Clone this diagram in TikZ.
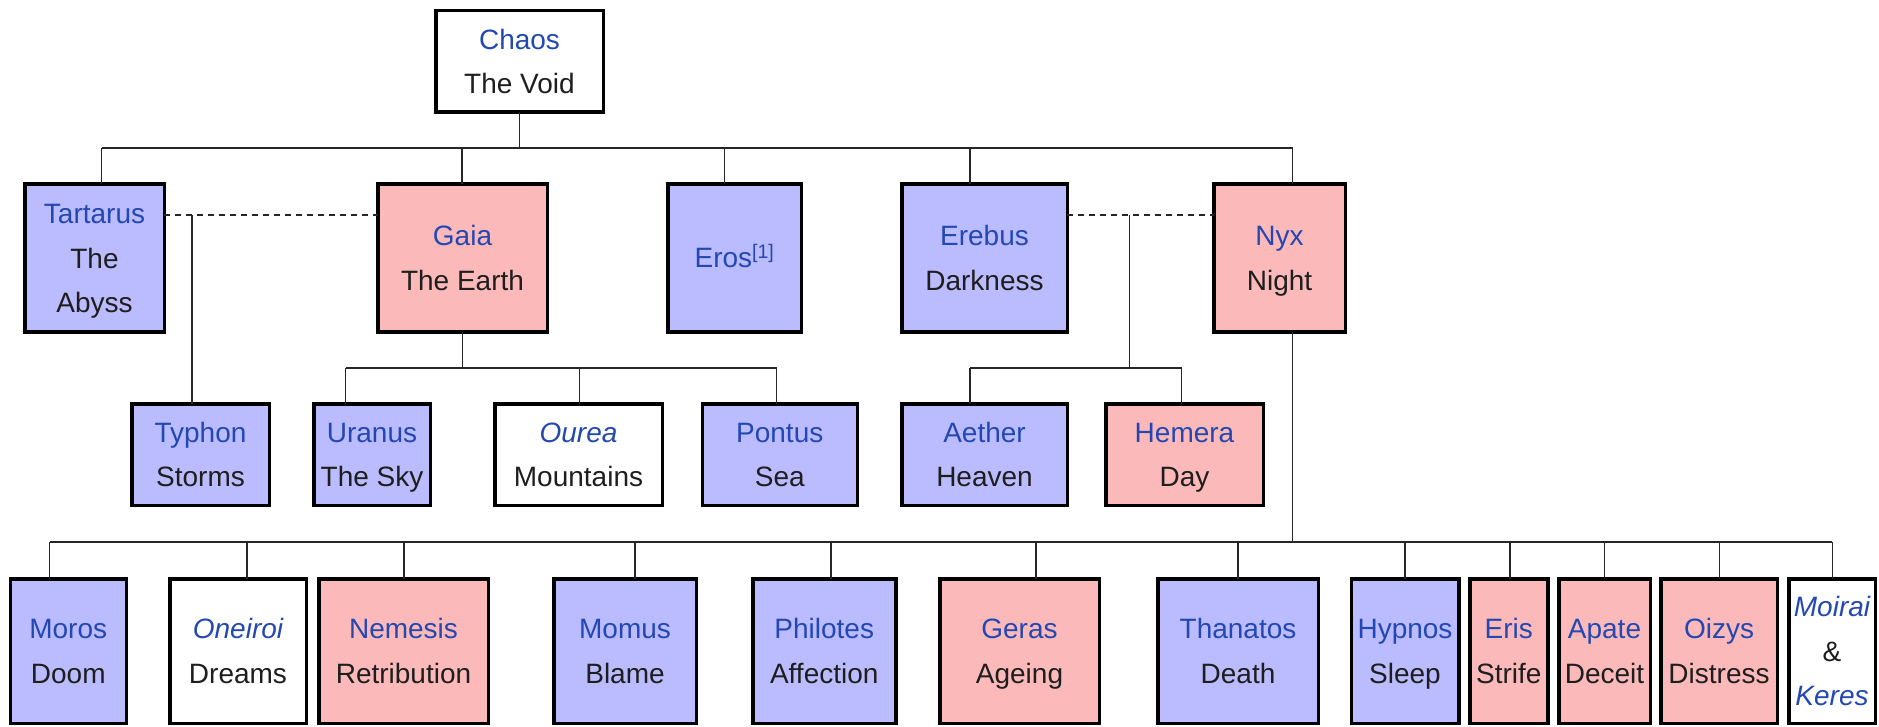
\documentclass[tikz,border=0pt]{standalone}
\usepackage{fontspec}
\setmainfont{Liberation Sans}
\definecolor{godblue}{RGB}{187,187,255}
\definecolor{godpink}{RGB}{251,185,186}
\definecolor{linkblue}{RGB}{35,72,178}
\definecolor{txt}{RGB}{30,30,30}
\newcommand\gline[1]{\rule{0pt}{20pt}\smash{#1}}
\newcommand\nm[1]{\textcolor{linkblue}{#1}}
\newcommand\gnode[7]{\node[#1, minimum width={(#4-#3-3.5)*1pt}, minimum height={(#6-#5-3.5)*1pt}] (#2) at ({(#3+#4)/2},{(#5+#6)/2}) {#7};}
\tikzset{
  godbox/.style={draw=black, line width=3.5pt, rectangle, inner sep=0pt, outer sep=0pt,
    align=center, text=txt, font=\fontsize{28}{44.5}\selectfont},
  bluebox/.style={godbox, fill=godblue},
  pinkbox/.style={godbox, fill=godpink},
  whitebox/.style={godbox, fill=white},
  link/.style={line width=1.3pt, draw=black!85},
  marriage/.style={line width=1.6pt, draw=black!85, dash pattern=on 6pt off 5pt},
}
\begin{document}
\begin{tikzpicture}[x=1pt, y=-1pt]
\useasboundingbox (0,0) rectangle (1879,727);
% row 0
\gnode{whitebox}{chaos}{434}{605}{9}{114}{\gline{\nm{Chaos}}\\\gline{The Void}}
% row 1
\gnode{bluebox}{tartarus}{23}{166}{182.5}{333.5}{\gline{\nm{Tartarus}}\\\gline{The}\\\gline{Abyss}}
\gnode{pinkbox}{gaia}{376}{549}{182.5}{333.5}{\gline{\nm{Gaia}}\\\gline{The Earth}}
\gnode{bluebox}{eros}{666}{803}{182.5}{333.5}{\gline{\nm{Eros\textsuperscript{[1]}}}}
\gnode{bluebox}{erebus}{900}{1069}{182.5}{333.5}{\gline{\nm{Erebus}}\\\gline{Darkness}}
\gnode{pinkbox}{nyx}{1212}{1347}{182.5}{333.5}{\gline{\nm{Nyx}}\\\gline{Night}}
% row 2
\gnode{bluebox}{typhon}{130}{271}{402}{507}{\gline{\nm{Typhon}}\\\gline{Storms}}
\gnode{bluebox}{uranus}{312}{432}{402}{507}{\gline{\nm{Uranus}}\\\gline{The Sky}}
\gnode{whitebox}{ourea}{493}{664}{402}{507}{\gline{\nm{\itshape Ourea}}\\\gline{Mountains}}
\gnode{bluebox}{pontus}{700.5}{859}{402}{507}{\gline{\nm{Pontus}}\\\gline{Sea}}
\gnode{bluebox}{aether}{900}{1069}{402}{507}{\gline{\nm{Aether}}\\\gline{Heaven}}
\gnode{pinkbox}{hemera}{1104}{1265}{402}{507}{\gline{\nm{Hemera}}\\\gline{Day}}
% row 3
\gnode{bluebox}{moros}{8.5}{128}{577}{725}{\gline{\nm{Moros}}\\\gline{Doom}}
\gnode{whitebox}{oneiroi}{168}{308}{577}{725}{\gline{\nm{\itshape Oneiroi}}\\\gline{Dreams}}
\gnode{pinkbox}{nemesis}{317}{490}{577}{725}{\gline{\nm{Nemesis}}\\\gline{Retribution}}
\gnode{bluebox}{momus}{552}{698}{577}{725}{\gline{\nm{Momus}}\\\gline{Blame}}
\gnode{bluebox}{philotes}{751}{897.5}{577}{725}{\gline{\nm{Philotes}}\\\gline{Affection}}
\gnode{pinkbox}{geras}{938}{1101}{577}{725}{\gline{\nm{Geras}}\\\gline{Ageing}}
\gnode{bluebox}{thanatos}{1156}{1320}{577}{725}{\gline{\nm{Thanatos}}\\\gline{Death}}
\gnode{bluebox}{hypnos}{1349.5}{1460.5}{577}{725}{\gline{\nm{Hypnos}}\\\gline{Sleep}}
\gnode{pinkbox}{eris}{1468}{1549.5}{577}{725}{\gline{\nm{Eris}}\\\gline{Strife}}
\gnode{pinkbox}{apate}{1557}{1652}{577}{725}{\gline{\nm{Apate}}\\\gline{Deceit}}
\gnode{pinkbox}{oizys}{1659}{1779}{577}{725}{\gline{\nm{Oizys}}\\\gline{Distress}}
\gnode{whitebox}{moirai}{1787}{1877}{577}{725}{\gline{\nm{\itshape Moirai}}\\\gline{\&}\\\gline{\nm{\itshape Keres}}}
% Chaos -> children
\coordinate (barA) at (101.7,148);
\coordinate (barB) at (1292.5,148);
\draw[link] (chaos.south) -- (chaos.south |- barA);
\draw[link] (barA) -- (barB);
\foreach \x/\n in {101.7/tartarus, 462/gaia, 724.3/eros, 970/erebus, 1292.5/nyx}{
  \coordinate (s-\n) at (\x,148);
  \draw[link] (s-\n) -- (s-\n |- \n.north);
}
% Tartarus + Gaia -> Typhon
\coordinate (m1) at (192,215);
\draw[marriage] (tartarus.east |- m1) -- (gaia.west |- m1);
\draw[link] (m1) -- (m1 |- typhon.north);
% Gaia -> children
\coordinate (gA) at (345.7,368);
\coordinate (gB) at (776.5,368);
\draw[link] (gaia.south) -- (gaia.south |- gA);
\draw[link] (gA) -- (gB);
\foreach \x/\n in {345.7/uranus, 579.5/ourea, 776.5/pontus}{
  \coordinate (s-\n) at (\x,368);
  \draw[link] (s-\n) -- (s-\n |- \n.north);
}
% Erebus + Nyx -> Aether, Hemera
\coordinate (m2) at (1129.5,215);
\coordinate (m2b) at (1129.5,368);
\coordinate (eA) at (970,368);
\coordinate (eB) at (1181.5,368);
\draw[marriage] (erebus.east |- m2) -- (nyx.west |- m2);
\draw[link] (m2) -- (m2b);
\draw[link] (eA) -- (eB);
\foreach \x/\n in {970/aether, 1181.5/hemera}{
  \coordinate (s-\n) at (\x,368);
  \draw[link] (s-\n) -- (s-\n |- \n.north);
}
% Nyx -> children
\coordinate (nA) at (49.5,542);
\coordinate (nB) at (1832.3,542);
\coordinate (nS) at (1292.5,542);
\draw[link] (nS |- nyx.south) -- (nS);
\draw[link] (nA) -- (nB);
\foreach \x/\n in {49.5/moros, 247/oneiroi, 404/nemesis, 635/momus, 831/philotes, 1036/geras, 1238/thanatos, 1405/hypnos, 1510/eris, 1604.6/apate, 1719.3/oizys, 1832.3/moirai}{
  \coordinate (s-\n) at (\x,542);
  \draw[link] (s-\n) -- (s-\n |- \n.north);
}
\end{tikzpicture}
\end{document}
